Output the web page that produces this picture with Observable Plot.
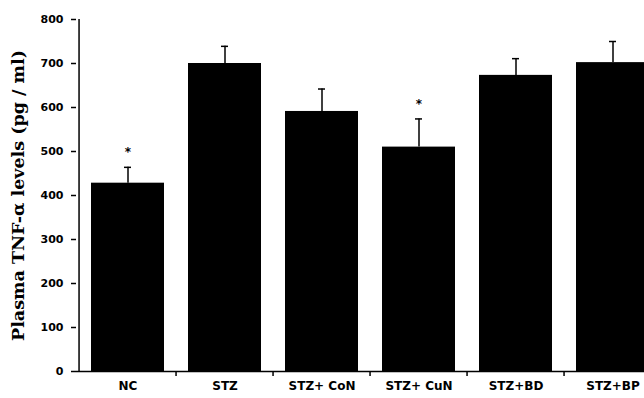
<!DOCTYPE html>
<html>
<head>
<meta charset="utf-8">
<script src="https://cdn.jsdelivr.net/npm/d3@7"></script>
<script src="https://cdn.jsdelivr.net/npm/@observablehq/plot@0.6"></script>
<style>
  html, body { margin: 0; padding: 0; background: #fff; }
  #chart svg { display: block; overflow: hidden; }
  #chart svg text { font-weight: bold; }
  #chart svg g[aria-label="ylabel"] text { letter-spacing: 1.5px; }
</style>
</head>
<body>
<div id="chart"></div>
<script>
const categories = ["NC", "STZ", "STZ+ CoN", "STZ+ CuN", "STZ+BD", "STZ+BP"];
const means = [428, 700, 591, 510, 673, 702];
const errors = [36, 39, 51, 64, 38, 48];
const significant = [true, false, false, true, false, false];
const yTicks = [0, 100, 200, 300, 400, 500, 600, 700, 800];

const data = categories.map((c, i) => ({
  group: c, mean: means[i], upper: means[i] + errors[i], sig: significant[i]
}));

const W = 644, H = 398;
const mLeft = 76, mTop = 19, yBottom = 371;
const step = 97.9;
const xRange = [mLeft, mLeft + step * categories.length];

const sans = "'DejaVu Sans', 'Open Sans', sans-serif";

const chart = Plot.plot({
  width: W,
  height: H,
  marginLeft: mLeft,
  marginRight: 0,
  marginTop: mTop,
  marginBottom: H - yBottom,
  style: { fontFamily: sans, background: "#fff", color: "#000", overflow: "hidden", fontWeight: "bold" },
  x: { domain: categories, range: xRange, paddingInner: 0.245, paddingOuter: 0.1225, label: null },
  y: { domain: [0, 800], range: [yBottom, mTop], label: null },
  marks: [
    Plot.barY(data, { x: "group", y: "mean", fill: "#000" }),
    Plot.ruleX(data, { x: "group", y1: "mean", y2: "upper", stroke: "#000", strokeWidth: 1.5 }),
    Plot.tickY(data, { x: "group", y: "upper", stroke: "#000", strokeWidth: 1.5, insetLeft: 33, insetRight: 33 }),
    Plot.text(data.filter(d => d.sig), { x: "group", y: "upper", text: () => "*", dy: -15, fontSize: 12, fill: "#000" }),
    // y axis line
    Plot.ruleX([categories[0]], { dx: -step / 2, stroke: "#000", strokeWidth: 1.5 }),
    // x axis line
    Plot.ruleY([0], { stroke: "#000", strokeWidth: 1.5 }),
    // boundary ticks on x axis
    Plot.ruleX(categories.slice(1), { dx: -step / 2, insetTop: yBottom - mTop, insetBottom: -5, stroke: "#000", strokeWidth: 1.5 }),
    Plot.axisY({ ticks: yTicks, tickSize: 5, tickPadding: 8, tickFormat: d => d, fontSize: 11, strokeWidth: 1.5, label: null }),
    Plot.axisX({ tickSize: 0, tickPadding: 10, fontSize: 12, label: null }),
    Plot.text(["Plasma TNF-α levels (pg / ml)"], {
      ariaLabel: "ylabel",
      frameAnchor: "left", dx: -58, dy: 0, rotate: -90, text: d => d,
      fontFamily: "'DejaVu Serif', serif", fontSize: 17.5, fill: "#000", textAnchor: "middle"
    })
  ]
});
document.getElementById("chart").appendChild(chart);
</script>
</body>
</html>
